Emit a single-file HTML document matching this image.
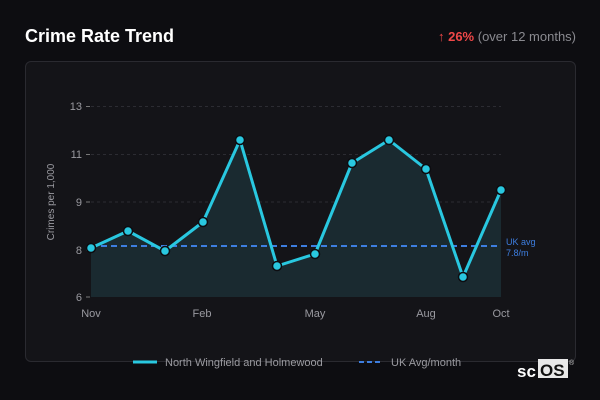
<!DOCTYPE html>
<html><head><style>
body{margin:0;width:600px;height:400px;background:#0d0d11;font-family:"Liberation Sans",sans-serif;overflow:hidden;position:relative}
.t{position:absolute;left:25px;top:26px;color:#fff;font-weight:bold;font-size:18px}
.r{position:absolute;right:24px;top:29px;color:#8a8a90;font-size:13px}
.r b{color:#f04848}
.card{position:absolute;left:25px;top:61px;width:549px;height:299px;border:1px solid #2a2a30;border-radius:6px;background:#141418}
</style></head><body>
<div class="t">Crime Rate Trend</div>
<div class="r"><b>↑ 26%</b> (over 12 months)</div>
<div class="card"></div>
<svg width="600" height="400" style="position:absolute;left:0;top:0" font-family="Liberation Sans, sans-serif">
<g stroke="#2c2c32" stroke-dasharray="3,3" stroke-width="1">
<line x1="91" x2="501" y1="106.5" y2="106.5"/><line x1="91" x2="501" y1="154.5" y2="154.5"/><line x1="91" x2="501" y1="202" y2="202"/>
</g>
<g stroke="#777" stroke-width="1"><line x1="86" x2="90" y1="106.5" y2="106.5"/><line x1="86" x2="90" y1="154.5" y2="154.5"/><line x1="86" x2="90" y1="202" y2="202"/><line x1="86" x2="90" y1="250" y2="250"/><line x1="86" x2="90" y1="297" y2="297"/></g>
<g fill="#9a9aa0" font-size="11" text-anchor="end">
<text x="82" y="110">13</text><text x="82" y="158">11</text><text x="82" y="206">9</text><text x="82" y="254">8</text><text x="82" y="301">6</text></g>
<text transform="translate(54,202) rotate(-90)" fill="#9a9aa0" font-size="10" text-anchor="middle">Crimes per 1,000</text>
<g fill="#9a9aa0" font-size="11" text-anchor="middle">
<text x="91" y="317">Nov</text><text x="202" y="317">Feb</text><text x="315" y="317">May</text><text x="426" y="317">Aug</text><text x="501" y="317">Oct</text></g>
<polygon fill="#1a2a30" points="91,297 91,248 128,231 165,251 203,222 240,140 277,266 315,254 352,163 389,140 426,169 463,277 501,190 501,297"/>
<line x1="91" x2="501" y1="246" y2="246" stroke="#3d7ee0" stroke-width="2" stroke-dasharray="6,4"/>
<text x="506" y="245" fill="#3d7ee0" font-size="9">UK avg</text><text x="506" y="256" fill="#3d7ee0" font-size="9">7.8/m</text>
<polyline fill="none" stroke="#29c8e0" stroke-width="3" stroke-linejoin="round" points="91,248 128,231 165,251 203,222 240,140 277,266 315,254 352,163 389,140 426,169 463,277 501,190"/>
<g fill="#29c8e0" stroke="#0d0d11" stroke-width="1.5">
<circle cx="91" cy="248" r="4.5"/><circle cx="128" cy="231" r="4.5"/><circle cx="165" cy="251" r="4.5"/><circle cx="203" cy="222" r="4.5"/><circle cx="240" cy="140" r="4.5"/><circle cx="277" cy="266" r="4.5"/><circle cx="315" cy="254" r="4.5"/><circle cx="352" cy="163" r="4.5"/><circle cx="389" cy="140" r="4.5"/><circle cx="426" cy="169" r="4.5"/><circle cx="463" cy="277" r="4.5"/><circle cx="501" cy="190" r="4.5"/></g>
<line x1="133" x2="157" y1="362" y2="362" stroke="#29c8e0" stroke-width="3"/>
<text x="165" y="366" fill="#9a9aa0" font-size="11">North Wingfield and Holmewood</text>
<line x1="359" x2="383" y1="362" y2="362" stroke="#3d7ee0" stroke-width="2" stroke-dasharray="5,3"/>
<text x="391" y="366" fill="#9a9aa0" font-size="11">UK Avg/month</text>
<text x="517" y="377" fill="#fff" font-size="17" font-weight="bold">sc</text>
<rect x="538" y="359" width="30" height="19" fill="#e8e8e8"/>
<text x="540" y="376" fill="#111" font-size="17" font-weight="bold">OS</text>
<text x="569" y="365" fill="#ccc" font-size="7">®</text>
</svg>
</body></html>
